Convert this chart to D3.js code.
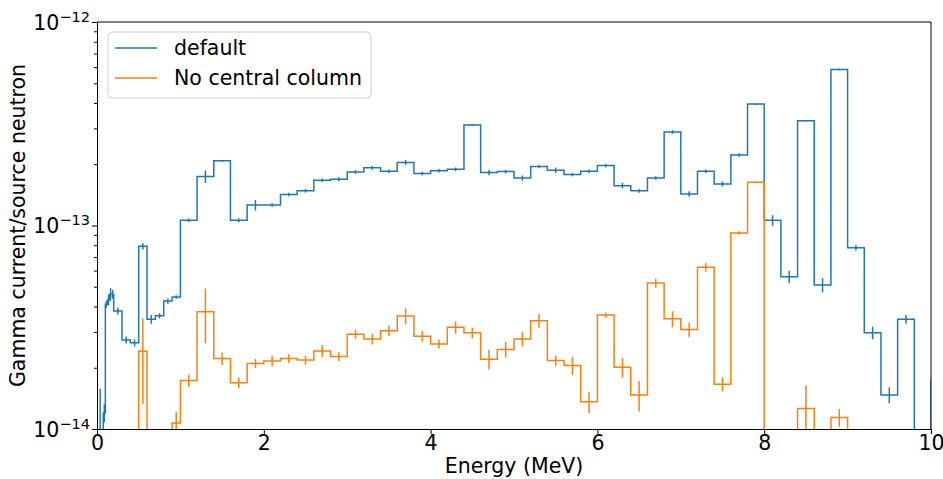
<!DOCTYPE html>
<html>
<head>
<meta charset="utf-8">
<script src="https://cdn.jsdelivr.net/npm/d3@7"></script>
<style>
  body { margin: 0; background: #fff; }
  text { font-family: "DejaVu Sans", sans-serif; fill: #000; }
</style>
</head>
<body>
<div id="graph"></div>
<script>
// bin edges (MeV)
var edges = [0, 0.025, 0.05, 0.075, 0.1, 0.125, 0.15, 0.175, 0.2, 0.3, 0.4, 0.5, 0.6, 0.7, 0.8, 0.9,
  1.0, 1.2, 1.4, 1.6, 1.8, 2.0, 2.2, 2.4, 2.6, 2.8, 3.0, 3.2, 3.4, 3.6, 3.8, 4.0, 4.2, 4.4, 4.6, 4.8,
  5.0, 5.2, 5.4, 5.6, 5.8, 6.0, 6.2, 6.4, 6.6, 6.8, 7.0, 7.2, 7.4, 7.6, 7.8, 8.0, 8.2, 8.4, 8.6, 8.8,
  9.0, 9.2, 9.4, 9.6, 9.8, 10.0, 10.2];

// "default"
var blueVals = [0, 8e-15, 0, 1.2e-14, 4.1e-14, 4.3e-14, 4.6e-14, 4.6e-14, 3.8e-14, 2.74e-14, 2.65e-14,
  7.9e-14, 3.46e-14, 3.6e-14, 4.25e-14, 4.45e-14,
  1.06e-13, 1.74e-13, 2.08e-13, 1.06e-13, 1.26e-13, 1.26e-13, 1.42e-13, 1.48e-13, 1.67e-13, 1.69e-13,
  1.83e-13, 1.92e-13, 1.85e-13, 2.04e-13, 1.80e-13, 1.86e-13, 1.89e-13, 3.12e-13, 1.82e-13, 1.84e-13,
  1.71e-13, 1.95e-13, 1.87e-13, 1.78e-13, 1.85e-13, 1.97e-13, 1.57e-13, 1.48e-13, 1.71e-13, 2.88e-13,
  1.43e-13, 1.85e-13, 1.60e-13, 2.22e-13, 3.95e-13, 1.06e-13, 5.6e-14, 3.27e-13, 5.1e-14, 5.85e-13,
  7.78e-14, 2.97e-14, 1.47e-14, 3.46e-14, 0, 1.74e-14];
// relative errors
var blueErr = [0, 0.97, 0, 0.1, 0.04, 0.06, 0.07, 0.05, 0.04, 0.04, 0.04,
  0.035, 0.05, 0.03, 0.03, 0.02,
  0.02, 0.07, 0.01, 0.02, 0.06, 0.02, 0.02, 0.02, 0.02, 0.02,
  0.02, 0.02, 0.02, 0.03, 0.02, 0.02, 0.02, 0.01, 0.03, 0.02,
  0.03, 0.02, 0.03, 0.02, 0.02, 0.02, 0.03, 0.02, 0.02, 0.02,
  0.03, 0.02, 0.03, 0.02, 0.01, 0.06, 0.07, 0.01, 0.08, 0.01,
  0.03, 0.07, 0.09, 0.05, 0, 0];

// "No central column"
var orangeVals = [0, 0, 0, 0, 0, 0, 0, 0, 0, 0, 0,
  2.41e-14, 0, 0, 0, 1.07e-14,
  1.73e-14, 3.77e-14, 2.22e-14, 1.69e-14, 2.10e-14, 2.16e-14, 2.22e-14, 2.18e-14, 2.42e-14, 2.27e-14,
  2.92e-14, 2.77e-14, 3.04e-14, 3.59e-14, 2.86e-14, 2.62e-14, 3.16e-14, 2.97e-14, 2.20e-14, 2.46e-14,
  2.77e-14, 3.40e-14, 2.17e-14, 2.05e-14, 1.36e-14, 3.63e-14, 2.01e-14, 1.47e-14, 5.21e-14, 3.48e-14,
  3.08e-14, 6.23e-14, 1.66e-14, 9.19e-14, 1.63e-13, 0, 0, 1.26e-14, 0, 1.14e-14,
  0, 0, 0, 0, 0, 0];
var orangeErr = [0, 0, 0, 0, 0, 0, 0, 0, 0, 0, 0,
  0.45, 0, 0, 0, 0.13,
  0.07, 0.3, 0.07, 0.06, 0.05, 0.06, 0.05, 0.05, 0.07, 0.05,
  0.05, 0.06, 0.06, 0.09, 0.06, 0.05, 0.07, 0.06, 0.11, 0.09,
  0.08, 0.08, 0.06, 0.1, 0.12, 0.03, 0.11, 0.17, 0.05, 0.09,
  0.08, 0.05, 0.08, 0.02, 0.01, 0, 0, 0.3, 0, 0.1,
  0, 0, 0, 0, 0, 0];

var xTicks = [0, 2, 4, 6, 8, 10];
var yTickExp = [-14, -13, -12];
var seriesNames = ["default", "No central column"];
var colors = ["#1f77b4", "#ff7f0e"];

var width = 943;
var height = 479;
var pLeft = 97, pRight = 931, pTop = 22, pBottom = 429;
var fs = '20.5px';

var svg = d3.select('#graph')
  .append('svg')
  .attr('width', width)
  .attr('height', height);

var x = d3.scaleLinear().domain([0, 10]).range([pLeft, pRight]);
var y = d3.scaleLog().domain([1e-14, 1e-12]).range([pBottom, pTop]);

function yv(v) { return v > 0 ? y(v) : pBottom + 40; }

svg.append('clipPath').attr('id', 'clip')
  .append('rect')
  .attr('x', pLeft).attr('y', pTop)
  .attr('width', pRight - pLeft).attr('height', pBottom - pTop);

var plot = svg.append('g').attr('clip-path', 'url(#clip)');

function stepPath(vals) {
  var d = '';
  vals.forEach(function(v, i) {
    if (i === 0) d += 'M' + x(edges[0]) + ',' + yv(v);
    else d += 'V' + yv(v);
    d += 'H' + x(edges[i + 1]);
  });
  return d;
}

function drawSeries(vals, errs, color) {
  plot.append('path')
    .attr('d', stepPath(vals))
    .attr('fill', 'none')
    .attr('stroke', color)
    .attr('stroke-width', 1.5);

  var bars = vals.map(function(v, i) {
    return { c: (edges[i] + edges[i + 1]) / 2, v: v, r: errs[i] };
  }).filter(function(d) { return d.v > 0 && d.r > 0; });

  plot.selectAll(null)
    .data(bars)
    .enter()
    .append('line')
    .attr('x1', function(d) { return x(d.c); })
    .attr('x2', function(d) { return x(d.c); })
    .attr('y1', function(d) { return yv(d.v * (1 + d.r)); })
    .attr('y2', function(d) { return yv(d.v * (1 - d.r)); })
    .attr('stroke', color)
    .attr('stroke-width', 1.5);
}

drawSeries(blueVals, blueErr, colors[0]);
drawSeries(orangeVals, orangeErr, colors[1]);

// axes
var xAxis = svg.append('g')
  .attr('transform', 'translate(0,' + pBottom + ')')
  .call(d3.axisBottom(x).tickValues(xTicks).tickSize(5).tickSizeOuter(0).tickPadding(1).tickFormat(d3.format('d')));
xAxis.selectAll('text').style('font-size', fs);

var minorTicks = [];
[-14, -13].forEach(function(e) {
  for (var k = 2; k <= 9; k++) minorTicks.push(k * Math.pow(10, e));
});

var yAxis = svg.append('g')
  .attr('transform', 'translate(' + pLeft + ',0)')
  .call(d3.axisLeft(y).tickValues(yTickExp.map(function(e) { return Math.pow(10, e); }))
    .tickSize(5).tickSizeOuter(0).tickFormat(''));
svg.append('g')
  .attr('transform', 'translate(' + pLeft + ',0)')
  .call(d3.axisLeft(y).tickValues(minorTicks).tickSize(3).tickSizeOuter(0).tickFormat(''))
  .select('.domain').remove();

yAxis.selectAll('.tick').each(function(d, i) {
  var t = d3.select(this).append('text')
    .attr('x', -7)
    .attr('y', 7)
    .attr('text-anchor', 'end')
    .style('font-size', fs);
  t.append('tspan').text('10');
  t.append('tspan').attr('dy', -8).style('font-size', '14.5px').text('\u2212' + (-yTickExp[i]));
});

svg.selectAll('.domain').attr('stroke', '#000').attr('stroke-width', 1);

// frame top and right
svg.append('line').attr('x1', pLeft).attr('x2', pRight).attr('y1', pTop).attr('y2', pTop)
  .attr('stroke', '#000').attr('stroke-width', 1);
svg.append('line').attr('x1', pRight).attr('x2', pRight).attr('y1', pTop).attr('y2', pBottom)
  .attr('stroke', '#000').attr('stroke-width', 1);

// labels
svg.append('text')
  .attr('x', (pLeft + pRight) / 2)
  .attr('y', 473)
  .attr('text-anchor', 'middle')
  .style('font-size', fs)
  .text('Energy (MeV)');

svg.append('text')
  .attr('transform', 'translate(25,' + ((pTop + pBottom) / 2) + ') rotate(-90)')
  .attr('text-anchor', 'middle')
  .style('font-size', fs)
  .text('Gamma current/source neutron');

// legend
var legend = svg.append('g');
legend.append('rect')
  .attr('x', 108).attr('y', 32)
  .attr('width', 263).attr('height', 66)
  .attr('rx', 4)
  .attr('fill', 'rgba(255,255,255,0.8)')
  .attr('stroke', '#d0d0d0');

seriesNames.forEach(function(name, i) {
  var ly = 48 + i * 30;
  legend.append('line')
    .attr('x1', 115).attr('x2', 157)
    .attr('y1', ly).attr('y2', ly)
    .attr('stroke', colors[i]).attr('stroke-width', 1.5);
  legend.append('text')
    .attr('x', 174).attr('y', ly + 7)
    .style('font-size', fs)
    .text(name);
});
</script>
</body>
</html>
